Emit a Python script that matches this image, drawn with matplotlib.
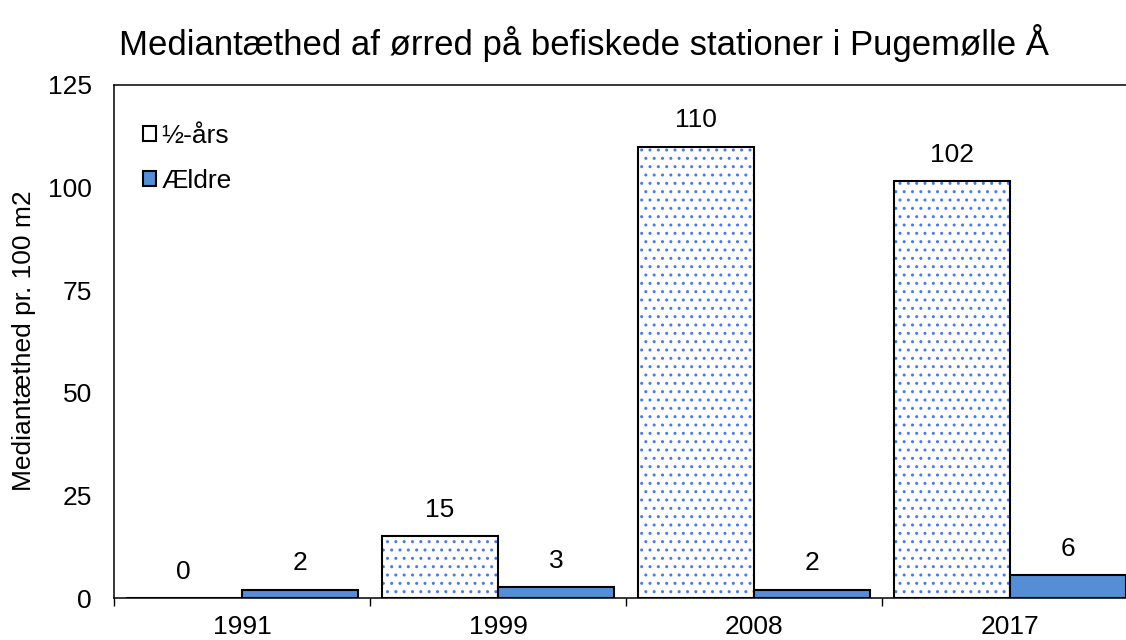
import matplotlib.pyplot as plt
from matplotlib.patches import Patch
import numpy as np

plt.rcParams['font.family'] = ['Liberation Sans', 'DejaVu Sans']

# data
years = ['1991', '1999', '2008', '2017']
young = [0, 15, 110, 101.6]     # ½-års
older = [2, 2.6, 2, 5.6]        # Ældre
series_names = ['½-års', 'Ældre']

dot_color = '#4A78F0'
old_color = '#558ED5'

fig = plt.figure(figsize=(11.26, 6.4), dpi=100)
ax = fig.add_axes([114 / 1126, 42 / 640, 1024 / 1126, 513 / 640])

x = np.arange(len(years))
w = 0.455

# hatched bars: first the dots, then the black outline on top
ax.bar(x - w / 2, young, w, facecolor='white', edgecolor=dot_color, hatch='..', linewidth=0)
ax.bar(x - w / 2, young, w, facecolor='none', edgecolor='black', linewidth=1.5)
ax.bar(x + w / 2, older, w, facecolor=old_color, edgecolor='black', linewidth=1.5)

# value labels
for xi, v in zip(x - w / 2, young):
    ax.annotate(f'{v:.0f}', (xi, v), xytext=(0, 19), textcoords='offset points',
                ha='center', va='center', fontsize=19)
for xi, v in zip(x + w / 2, older):
    ax.annotate(f'{v:.0f}', (xi, v), xytext=(0, 19), textcoords='offset points',
                ha='center', va='center', fontsize=19)

ax.set_xlim(-0.5, len(years) - 0.5)
ax.set_ylim(0, 125)
ax.set_yticks(range(0, 126, 25))
ax.set_xticks(x)
ax.set_xticklabels(years)
ax.set_xticks(np.arange(-0.5, len(years), 1), minor=True)
ax.tick_params(axis='x', which='major', length=0, pad=12, labelsize=19)
ax.tick_params(axis='x', which='minor', length=6, width=1, direction='out')
ax.tick_params(axis='y', length=0, pad=16, labelsize=19)

for s in ax.spines.values():
    s.set_linewidth(1.1)

handles = [Patch(facecolor='white', edgecolor='black', linewidth=1.5),
           Patch(facecolor=old_color, edgecolor='black', linewidth=1.5)]
ax.legend(handles, series_names, loc='upper left', bbox_to_anchor=(0.005, 0.97),
          frameon=False, fontsize=19, handlelength=0.5, handleheight=0.5,
          handletextpad=0.2, labelspacing=0.8)

fig.text(584 / 1126, 1 - 43 / 640, 'Mediantæthed af ørred på befiskede stationer i Pugemølle Å',
         ha='center', va='center', fontsize=25)
fig.text(24 / 1126, 1 - 341 / 640, 'Mediantæthed pr. 100 m2', rotation=90,
         ha='center', va='center', fontsize=19)

fig.savefig('out.png', dpi=100)
